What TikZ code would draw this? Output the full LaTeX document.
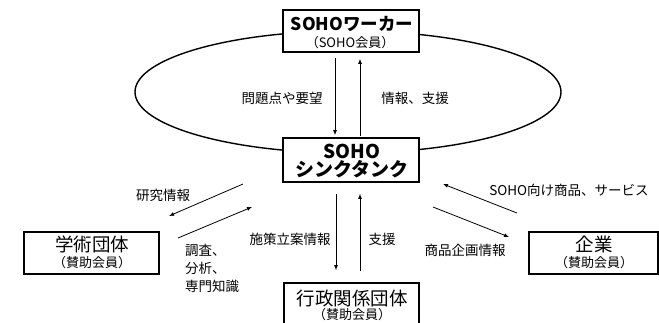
\documentclass[tikz,border=0pt]{standalone}
\usepackage{fontspec}
\setmainfont{Noto Sans CJK JP}
\usetikzlibrary{arrows.meta}
\begin{document}
\begin{tikzpicture}[x=1pt,y=-1pt,
  box/.style={draw, line width=1.7pt, fill=white, inner sep=0pt},
  arr/.style={line width=0.8pt, -{Latex[length=5pt,width=4pt]}},
  title/.style={inner sep=0pt, font=\fontsize{18.5}{20}\selectfont},
  btitle/.style={inner sep=0pt, font=\fontsize{17.5}{20}\selectfont\bfseries},
  sub/.style={inner sep=0pt, font=\fontsize{13}{14}\selectfont},
  lbl/.style={inner sep=0pt, font=\fontsize{13.5}{15}\selectfont}]
\useasboundingbox (0,0) rectangle (659,323);
% ellipse
\draw[line width=1.4pt] (348,92) ellipse [x radius=213pt, y radius=61pt];
% boxes
\node[box, minimum width=136pt, minimum height=42pt] (worker) at (351,31) {};
\node[btitle] (workerT) at (352,24) {SOHOワーカー};
\node[sub] (workerS) at (350,43) {（SOHO会員）};

\node[box, minimum width=136pt, minimum height=44pt] (tank) at (351,160) {};
\node[btitle, font=\fontsize{19}{20}\selectfont\bfseries] (tankA) at (352,151) {SOHO};
\node[btitle, font=\fontsize{19}{20}\selectfont\bfseries] (tankB) at (352,169) {シンクタンク};

\node[box, minimum width=135pt, minimum height=44pt] (gov) at (351.5,305) {};
\node[title] (govT) at (352,298) {行政関係団体};
\node[sub] (govS) at (352,315) {（賛助会員）};

\node[box, minimum width=135pt, minimum height=42pt] (acad) at (91.5,253) {};
\node[title] (acadT) at (92,244) {学術団体};
\node[sub] (acadS) at (92,263) {（賛助会員）};

\node[box, minimum width=129pt, minimum height=42pt] (corp) at (593.5,253) {};
\node[title] (corpT) at (594,244) {企業};
\node[sub] (corpS) at (594,263) {（賛助会員）};

% vertical arrows
\draw[arr] ([xshift=-16pt,yshift=-5pt]worker.south) -- ([xshift=-16pt,yshift=2pt]tank.north);
\draw[arr] ([xshift=9pt,yshift=1pt]tank.north) -- ([xshift=9pt,yshift=-6pt]worker.south);
\draw[arr] ([xshift=-15pt,yshift=-11pt]tank.south) -- ([xshift=-15.5pt,yshift=12pt]gov.north);
\draw[arr] ([xshift=8.5pt,yshift=11pt]gov.north) -- ([xshift=9pt,yshift=-11pt]tank.south);

% diagonal arrows
\coordinate (a1s) at (243,184); \coordinate (a1e) at (169,216);
\coordinate (a2s) at (178,238); \coordinate (a2e) at (252,207);
\coordinate (a3s) at (517,213); \coordinate (a3e) at (443,184);
\coordinate (a4s) at (433,207); \coordinate (a4e) at (509,237);
\draw[arr] (a1s) -- (a1e);
\draw[arr] (a2s) -- (a2e);
\draw[arr] (a3s) -- (a3e);
\draw[arr] (a4s) -- (a4e);

% labels
\node[lbl] (l1) at (282,98) {問題点や要望};
\node[lbl] (l2) at (415,98) {情報、支援};
\node[lbl] (l3) at (163,195) {研究情報};
\node[lbl, align=left, anchor=west, font=\fontsize{13.5}{18}\selectfont] (l4) at (185,268) {調査、\\分析、\\専門知識};
\node[lbl] (l5) at (290,239) {施策立案情報};
\node[lbl] (l6) at (382,239) {支援};
\node[lbl] (l7) at (569,190) {SOHO向け商品、サービス};
\node[lbl] (l8) at (465,250) {商品企画情報};
\end{tikzpicture}
\end{document}
